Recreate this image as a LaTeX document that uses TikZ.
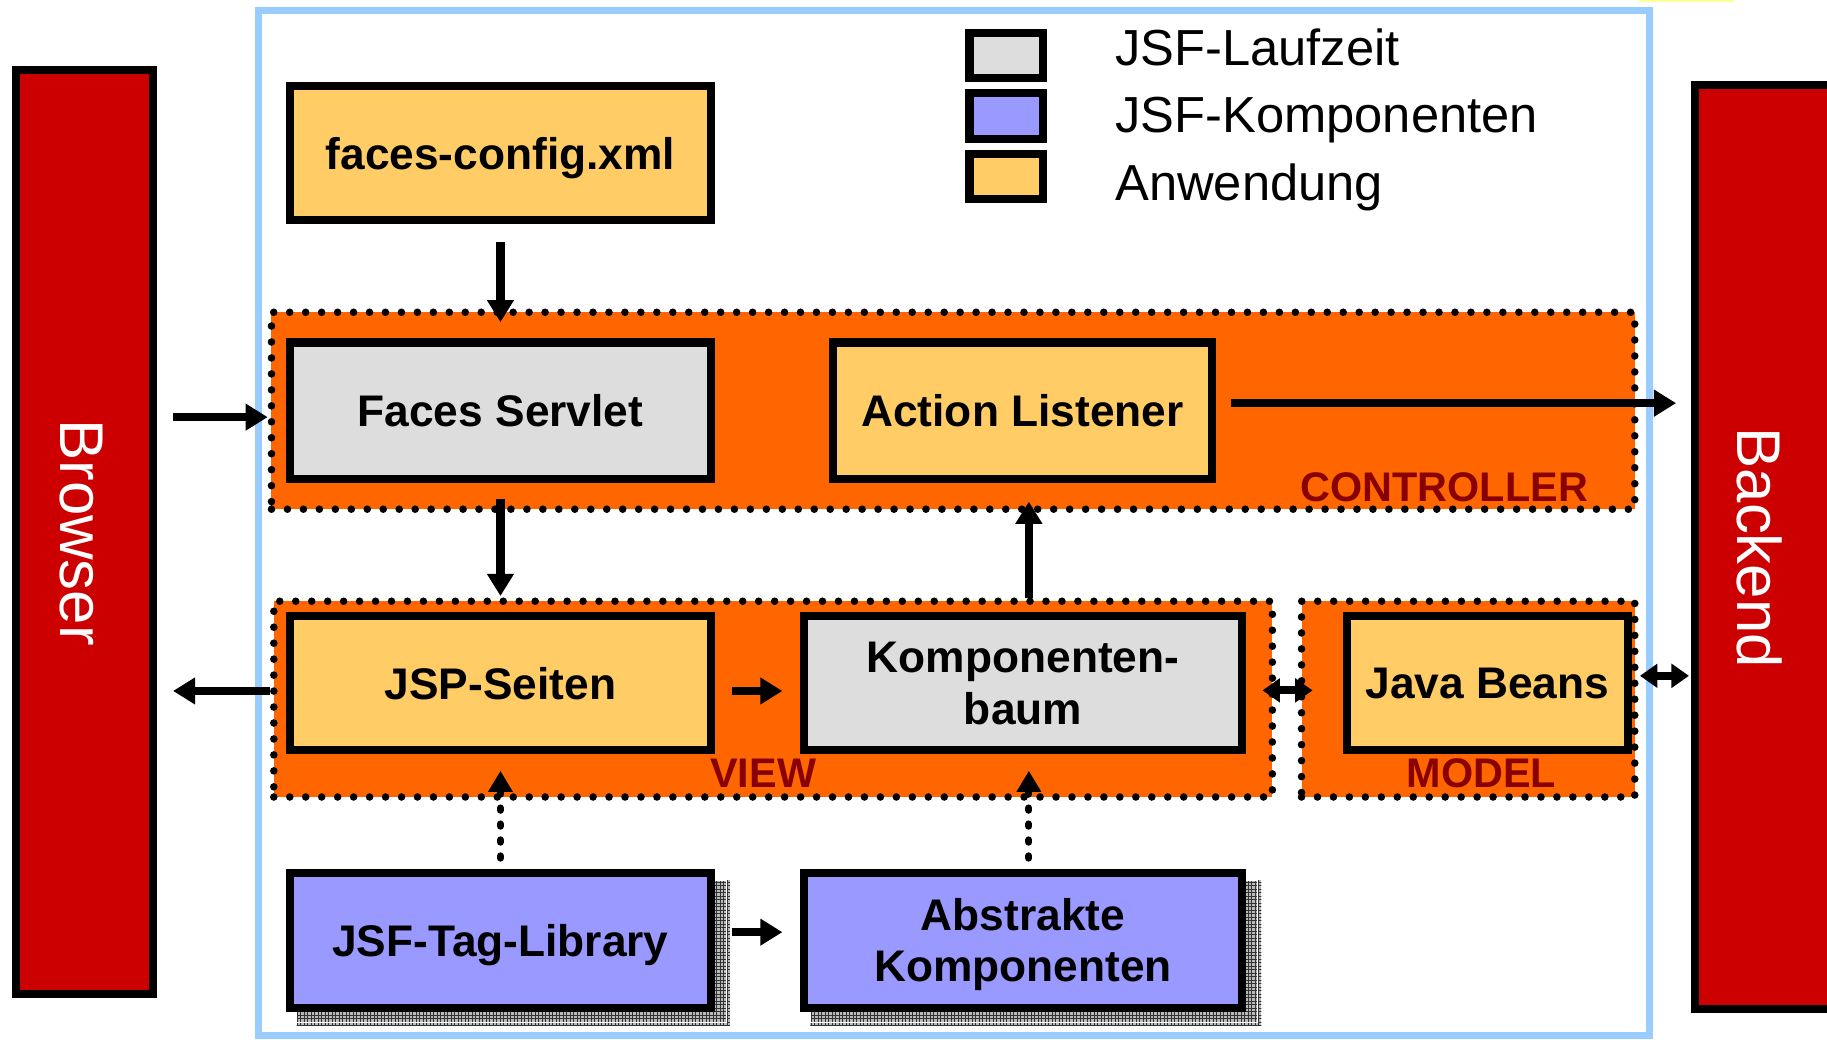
\documentclass[tikz,border=0pt]{standalone}
\usepackage{fontspec}
\setmainfont{Liberation Sans}
\usetikzlibrary{arrows.meta,calc,patterns,backgrounds}

\definecolor{regionorange}{HTML}{FF6600}
\definecolor{appyellow}{HTML}{FFCC66}
\definecolor{runtimegray}{HTML}{DDDDDD}
\definecolor{compblue}{HTML}{9999FF}
\definecolor{sidered}{HTML}{CC0000}
\definecolor{framblue}{HTML}{99CCFF}
\definecolor{labelred}{HTML}{880000}
\definecolor{paleyellow}{HTML}{FFFF99}

\newcommand\jsfboxfont{\fontsize{38}{44}\selectfont\bfseries}
\newcommand\jsflegfont{\fontsize{43.5}{50}\selectfont}
\newcommand\jsfsidefont{\fontsize{53}{60}\selectfont}
\newcommand\jsfregfont{\fontsize{35.5}{40}\selectfont\bfseries}

\begin{document}
\begin{tikzpicture}[x=1pt,y=-1pt,
  jbox/.style={draw=black, line width=7pt, inner sep=0pt, font=\jsfboxfont,
               align=center, text depth=0pt},
  region/.style={draw=black, fill=regionorange, line width=6.5pt,
                 dash pattern=on 0pt off 13.7pt, line cap=round, inner sep=0pt},
  arr/.style={line width=7pt, -{Triangle[length=19pt,width=22pt]}},
  darr/.style={line width=7pt, {Triangle[length=15pt,width=20pt]}-{Triangle[length=15pt,width=20pt]}},
  dotarr/.style={line width=6pt, dash pattern=on 2pt off 11.7pt, line cap=round,
                 -{Triangle[length=18pt,width=20pt]}},
  legtext/.style={anchor=base west, font=\jsflegfont, inner sep=0pt},
  reglabel/.style={font=\jsfregfont, text=labelred, inner sep=0pt},
  sidetext/.style={rotate=-90, text=white, font=\jsfsidefont, inner sep=0pt}
]
\useasboundingbox (0,0) rectangle (1568,892);
\fill[paleyellow] (1407,0) rectangle (1488,1.8);

% outer frame of the JSF application
\draw[framblue, line width=6pt] (222,9) rectangle (1416,889);

% Browser and Backend columns
\node[jbox, fill=sidered, minimum width=118pt, minimum height=793pt] (browser) at (72.5,456.5) {};
\node[sidetext] (browsertxt) at (70,457) {Browser};
\node[jbox, fill=sidered, minimum width=125pt, minimum height=793pt] (backend) at (1517.5,469.5) {};
\node[sidetext] (backendtxt) at (1510,470) {Backend};

% legend
\node[jbox, fill=runtimegray, minimum width=63pt, minimum height=39pt] (lgrun) at (863.5,47.5) {};
\node[jbox, fill=compblue, minimum width=63pt, minimum height=39pt] (lgcomp) at (863.5,99.5) {};
\node[jbox, fill=appyellow, minimum width=63pt, minimum height=39pt] (lgapp) at (863.5,151.5) {};
\node[legtext] (lgruntxt) at (957,56) {JSF-Laufzeit};
\node[legtext] (lgcomptxt) at (957,114) {JSF-Komponenten};
\node[legtext] (lgapptxt) at (957,172) {Anwendung};

% MVC regions
\node[region, minimum width=1170pt, minimum height=169pt] (ctrl) at (818,352.5) {};
\node[region, minimum width=857pt, minimum height=168pt] (view) at (663.5,600) {};
\node[region, minimum width=286pt, minimum height=168pt] (model) at (1260,600) {};
\node[reglabel, anchor=base east] (ctrllbl) at (1363,430) {CONTROLLER};
\node[reglabel, anchor=base] (viewlbl) at (655,676) {VIEW};
\node[reglabel, anchor=base] (modellbl) at (1271.5,676) {MODEL};

% boxes
\node[jbox, fill=appyellow, minimum width=361pt, minimum height=115pt] (faces) at (429.5,131.5) {faces-config.xml};
\node[jbox, fill=runtimegray, minimum width=361pt, minimum height=117pt] (servlet) at (429.5,352.5) {Faces Servlet};
\node[jbox, fill=appyellow, minimum width=325pt, minimum height=117pt] (action) at (877.5,352.5) {Action Listener};
\node[jbox, fill=appyellow, minimum width=361pt, minimum height=115pt] (jsp) at (429.5,586.5) {JSP-Seiten};
\node[jbox, fill=runtimegray, minimum width=376pt, minimum height=115pt] (kbaum) at (878,586.5) {Komponenten-\\baum};
\node[jbox, fill=appyellow, minimum width=241pt, minimum height=115pt] (beans) at (1276.5,586.5) {Java Beans};
\node[jbox, fill=compblue, minimum width=361pt, minimum height=116pt] (tag) at (429.5,807) {JSF-Tag-Library};
\node[jbox, fill=compblue, minimum width=376pt, minimum height=116pt] (abstr) at (878,807) {Abstrakte\\Komponenten};

% hatched drop shadows of the component boxes
\begin{scope}[on background layer]
  \fill[white] (0,0) rectangle (1568,892);
  \foreach \b in {tag,abstr}{
    \fill[gray!55] ($(\b.north west)+(9,10)$) rectangle ($(\b.south east)+(13,12)$);
    \fill[pattern=grid, pattern color=gray!40!black] ($(\b.north west)+(9,10)$) rectangle ($(\b.south east)+(13,12)$);
    \draw[white, line width=1pt] ($(\b.north west)+(9,10)$) rectangle ($(\b.south east)+(10,9)$);
  }
\end{scope}

% connectors
\draw[arr, shorten <=15pt, shorten >=14pt] (faces.south) -- (servlet.north);
\draw[arr] ($(browser.east |- servlet.west)+(13.5,5.5)$) -- ($(ctrl.west |- servlet.west)+(0,5.5)$);
\draw[arr] ($(action.east)+(13,-6.5)$) -- ($(backend.west |- action.east)+(-13,-6.5)$);
\draw[arr, shorten <=14pt, shorten >=14pt] (servlet.south) -- (jsp.north);
\draw[arr] ($(kbaum.north)+(5,-12)$) -- ($(kbaum.north |- action.south)+(5,16)$);
\draw[arr] ($(view.west |- jsp.west)+(0,6.5)$) -- ($(browser.east |- jsp.west)+(13.5,6.5)$);
\draw[arr] ($(jsp.east)+(15,6.5)$) -- ($(kbaum.west)+(-15,6.5)$);
\draw[darr] ($(kbaum.east)+(14,6)$) -- ($(beans.west)+(-26,6)$);
\draw[darr] ($(beans.east)+(7,-6.5)$) -- ($(backend.west |- beans.east)+(-2,-6.5)$);
\draw[dotarr] ($(tag.north)+(0,-9)$) -- ($(jsp.south)+(0,14)$);
\draw[dotarr] ($(abstr.north)+(5,-9)$) -- ($(kbaum.south)+(5,14)$);
\draw[arr] ($(tag.east)+(15,-7)$) -- ($(abstr.west)+(-15,-7)$);
\end{tikzpicture}
\end{document}
